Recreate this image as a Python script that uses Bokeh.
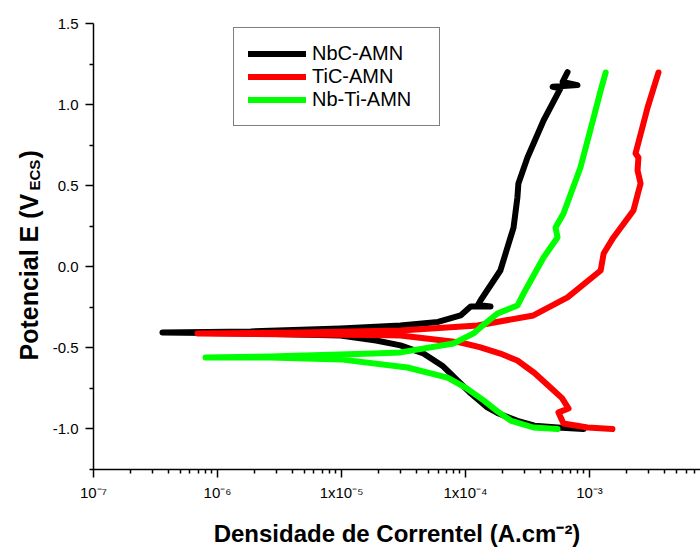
import math
from bokeh.plotting import figure
from bokeh.layouts import row
from bokeh.core.properties import value
from bokeh.models import Range1d, FixedTicker, Legend, LegendItem, PrintfTickFormatter
from bokeh.embed import file_html
from bokeh.resources import INLINE

# ---- data (current density A/cm2, potential V) ----
i_nbc = [8.95e-4, 5.52e-4, 3.60e-4, 2.62e-4, 1.85e-4, 1.50e-4, 1.10e-4, 8.61e-5, 6.50e-5, 4.58e-5,
         2.99e-5, 1.90e-5, 9.82e-6, 1.85e-6, 3.60e-7,
         1.85e-6, 9.82e-6, 2.99e-5, 6.00e-5, 9.12e-5, 1.10e-4, 1.59e-4, 1.26e-4, 1.32e-4, 1.91e-4,
         2.44e-4, 2.62e-4, 2.67e-4, 3.16e-4, 4.26e-4, 5.83e-4, 5.04e-4, 8.0e-4, 6.07e-4, 6.65e-4]
e_nbc = [-1.0, -0.991, -0.980, -0.950, -0.905, -0.867, -0.780, -0.701, -0.610, -0.535,
         -0.485, -0.455, -0.424, -0.411, -0.405,
         -0.399, -0.380, -0.362, -0.340, -0.300, -0.245, -0.245, -0.235, -0.208, -0.023,
         0.242, 0.427, 0.514, 0.674, 0.902, 1.100, 1.110, 1.120, 1.140, 1.200]

i_tic = [1.53e-3, 9.64e-4, 6.17e-4, 5.62e-4, 6.78e-4, 6.00e-4, 4.84e-4, 3.60e-4, 2.62e-4, 1.91e-4,
         1.30e-4, 9.12e-5, 2.99e-5, 1.81e-5, 4.67e-6, 6.90e-7,
         4.67e-6, 2.99e-5, 1.25e-4, 3.53e-4, 6.65e-4, 1.23e-3, 1.30e-3, 1.56e-3, 2.26e-3, 2.58e-3,
         2.44e-3, 2.48e-3, 2.35e-3, 2.94e-3, 3.60e-3]
e_tic = [-1.0, -0.991, -0.966, -0.898, -0.874, -0.810, -0.744, -0.655, -0.578, -0.535,
         -0.495, -0.467, -0.424, -0.421, -0.417, -0.411,
         -0.405, -0.393, -0.362, -0.300, -0.189, -0.023, 0.082, 0.181, 0.347, 0.514,
         0.594, 0.674, 0.699, 0.982, 1.198]

i_nbti = [5.52e-4, 3.53e-4, 2.31e-4, 1.80e-4, 1.40e-4, 1.00e-4, 7.16e-5, 3.40e-5, 9.82e-6, 2.67e-6, 8.0e-7,
          2.67e-6, 1.81e-5, 2.99e-5, 8.0e-5, 1.16e-4, 1.32e-4, 1.81e-4, 2.62e-4, 2.94e-4,
          4.26e-4, 5.52e-4, 5.32e-4, 6.17e-4, 8.45e-4, 1.08e-3, 1.23e-3, 1.35e-3]
e_nbti = [-1.0, -0.991, -0.948, -0.890, -0.824, -0.745, -0.683, -0.621, -0.571, -0.559, -0.559,
          -0.553, -0.534, -0.528, -0.473, -0.411, -0.374, -0.288, -0.239, -0.165,
          0.057, 0.181, 0.242, 0.329, 0.612, 0.920, 1.087, 1.198]

series_names = ["NbC-AMN", "TiC-AMN", "Nb-Ti-AMN"]
series_colors = ["#000000", "#ff0000", "#00ff00"]

y_ticks = [-1.0, -0.5, 0.0, 0.5, 1.0, 1.5]
y_minor = [-1.25, -0.75, -0.25, 0.25, 0.75, 1.25]
x_ticks = [1e-7, 1e-6, 1e-5, 1e-4, 1e-3]
x_tick_labels = ["10\u207b\u2077", "10\u207b\u2076", "1x10\u207b\u2075", "1x10\u207b\u2074", "10\u207b\u00b3"]

y_label_parts = ["Potencial E (V", "ECS", ")"]

FONT = "Liberation Sans"
LEFT_W = 46
FRAME_TOP, FRAME_BOTTOM = 23, 469

# ---- narrow panel holding the rotated y-axis title (its frame is aligned with the chart's) ----
lab = figure(width=LEFT_W, height=549, x_range=Range1d(0, LEFT_W),
             y_range=Range1d(FRAME_BOTTOM, FRAME_TOP),
             output_backend="svg", toolbar_location=None,
             x_axis_location=None, y_axis_location=None,
             min_border_left=0, min_border_right=0, min_border_top=0, min_border_bottom=0)
lab.outline_line_color = None
lab.grid.visible = False
part_x = [28, 34, 28]
part_y = [360, 190, 158]
part_size = ["25px", "15px", "25px"]
for tx, ty, tt, ts in zip(part_x, part_y, y_label_parts, part_size):
    lab.text(x=[tx], y=[ty], text=[tt], angle=math.pi / 2, text_font=value(FONT),
             text_font_style="bold", text_font_size=value(ts), text_align="left",
             text_baseline="middle", text_color="black")

# ---- main chart ----
p = figure(width=700 - LEFT_W, height=549, x_axis_type="log",
           x_range=Range1d(1e-7, 10 ** -2.105), y_range=Range1d(-1.25, 1.5),
           output_backend="svg", toolbar_location=None,
           min_border_left=93 - LEFT_W, min_border_right=0,
           min_border_top=FRAME_TOP, min_border_bottom=549 - FRAME_BOTTOM)
p.outline_line_color = None
p.grid.visible = False
p.background_fill_color = "white"

renderers = []
for xs, ys, c in [(i_nbc, e_nbc, series_colors[0]), (i_tic, e_tic, series_colors[1]), (i_nbti, e_nbti, series_colors[2])]:
    r = p.line(xs, ys, line_color=c, line_width=6, line_join="round", line_cap="round")
    renderers.append(r)

minor_x = [k * 10 ** n for n in range(-7, -2) for k in range(2, 10)]
p.xaxis.ticker = FixedTicker(ticks=x_ticks, minor_ticks=minor_x)
p.xaxis.major_label_overrides = {t: l for t, l in zip(x_ticks, x_tick_labels)}
p.yaxis.ticker = FixedTicker(ticks=y_ticks, minor_ticks=y_minor)
p.yaxis.formatter = PrintfTickFormatter(format="%.1f")

for ax in (p.xaxis[0], p.yaxis[0]):
    ax.axis_line_color = "black"
    ax.axis_line_width = 1.5
    ax.major_tick_line_color = "black"
    ax.major_tick_line_width = 1.5
    ax.minor_tick_line_color = "black"
    ax.minor_tick_line_width = 1.5
    ax.major_tick_in = 0
    ax.major_tick_out = 8
    ax.minor_tick_in = 0
    ax.minor_tick_out = 4
    ax.major_label_text_font = FONT
    ax.major_label_text_font_size = "15px"
    ax.major_label_text_color = "black"

p.yaxis.major_label_standoff = 7
p.xaxis.major_label_standoff = 6
p.xaxis.axis_label = "Densidade de Correntel (A.cm\u207b\u00b2)"
p.xaxis.axis_label_text_font = FONT
p.xaxis.axis_label_text_font_style = "bold"
p.xaxis.axis_label_text_font_size = "24px"
p.xaxis.axis_label_text_color = "black"
p.xaxis.axis_label_standoff = 16

legend = Legend(items=[LegendItem(label=n, renderers=[r]) for n, r in zip(series_names, renderers)],
                location=(140, 343), border_line_color="black", border_line_width=1,
                background_fill_color="white", background_fill_alpha=1.0,
                label_text_font=FONT, label_text_font_size="20px", label_text_color="black",
                glyph_width=58, glyph_height=23, label_height=23, spacing=0, padding=14,
                margin=0, label_standoff=6, label_width=113)
p.add_layout(legend)

layout = row(lab, p, spacing=0)
open("out.html", "w").write(file_html(layout, INLINE))
